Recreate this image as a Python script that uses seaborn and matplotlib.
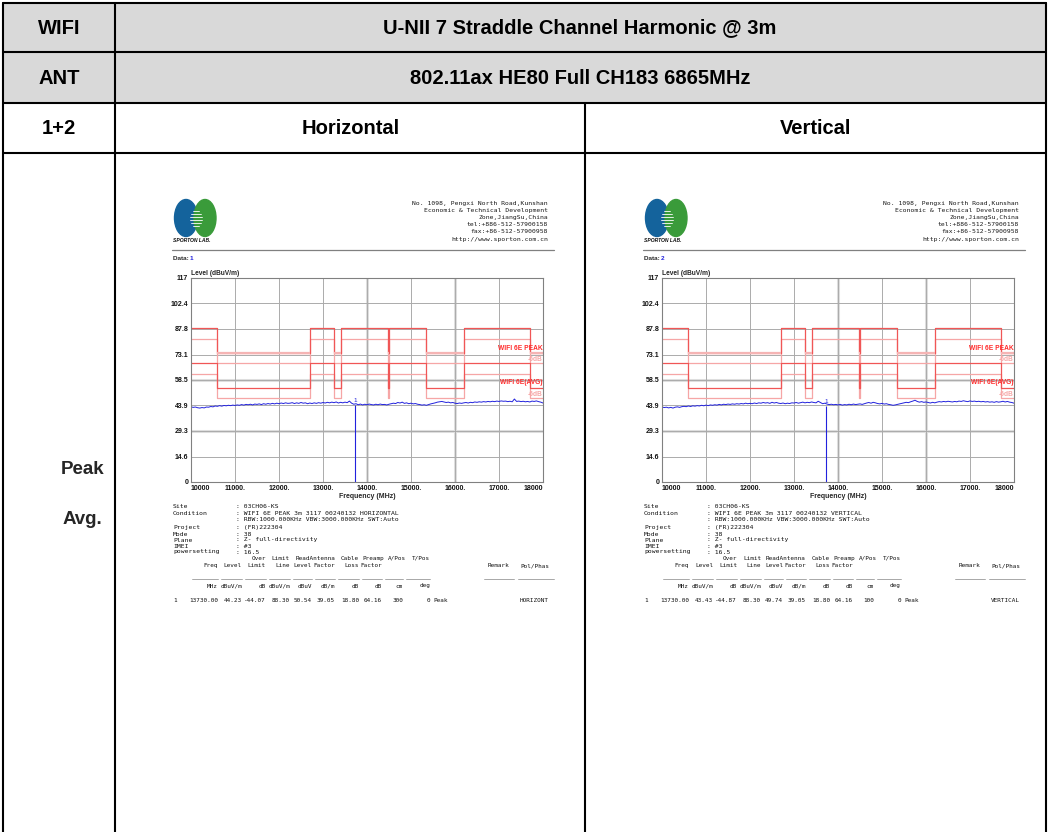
import numpy as np
import matplotlib.pyplot as plt
import seaborn as sns
from matplotlib.patches import Ellipse, Rectangle

sns.set_theme(style="white")
plt.rcParams['font.family'] = ['Liberation Sans', 'DejaVu Sans']
MONO = 'DejaVu Sans Mono'

W, H = 1049, 832

# ---- table texts ----
row_labels = ["WIFI", "ANT", "1+2"]
header_texts = ["U-NII 7 Straddle Channel Harmonic @ 3m", "802.11ax HE80 Full CH183 6865MHz"]
pol_titles = ["Horizontal", "Vertical"]
mode_labels = ["Peak", "Avg."]

# ---- chart axes ----
y_ticks = [0, 14.6, 29.3, 43.9, 58.5, 73.1, 87.8, 102.4, 117]
y_ticklabels = ["0", "14.6", "29.3", "43.9", "58.5", "73.1", "87.8", "102.4", "117"]
x_ticks = [10000, 11000, 12000, 13000, 14000, 15000, 16000, 17000, 18000]
x_ticklabels = ["10000", "11000.", "12000.", "13000.", "14000.", "15000.", "16000.", "17000.", "18000"]

# ---- limit lines (band edges, MHz) ----
band_edges = [10000, 10600, 12700, 13250, 13400, 14470, 14500, 15350, 16200, 17700, 18000]
peak_limit = [88.2, 74.0, 88.2, 74.0, 88.2, 74.0, 88.2, 74.0, 88.2, 74.0]
peak_margin = [82.2, 68.0, 82.2, 68.0, 82.2, 68.0, 82.2, 68.0, 82.2, 68.0]
avg_limit = [68.2, 54.0, 68.2, 54.0, 68.2, 54.0, 68.2, 54.0, 68.2, 54.0]
avg_margin = [62.2, 48.0, 62.2, 48.0, 62.2, 48.0, 62.2, 48.0, 62.2, 48.0]

# ---- measured traces (10000..18000 MHz, 50 MHz sweep points) ----
freq = np.arange(10000, 18001, 50)
trace_h = [43.1, 42.8, 43.0, 42.6, 42.4, 42.7, 42.5, 43.0, 42.9, 43.3,
           43.1, 43.6, 43.4, 43.8, 43.5, 43.9, 43.7, 44.0, 43.8, 44.1,
           43.9, 44.2, 44.0, 44.4, 44.1, 44.5, 44.3, 44.6, 44.2, 44.7,
           44.5, 44.8, 44.4, 44.9, 44.6, 45.0, 44.7, 45.1, 44.8, 45.2,
           44.9, 45.3, 45.0, 45.4, 45.1, 45.2, 45.5, 45.0, 45.4, 45.1,
           45.6, 45.2, 45.4, 44.9, 45.3, 45.0, 45.4, 45.1, 45.5, 45.2,
           45.6, 45.3, 45.7, 45.4, 45.8, 45.5, 45.9, 45.3, 45.7, 45.4,
           45.8, 45.5, 46.4, 45.2, 44.6, 44.9, 44.3, 44.7, 44.2, 44.6,
           44.3, 44.7, 44.4, 44.2, 44.6, 44.3, 44.7, 44.4, 44.5, 44.2,
           44.6, 44.9, 45.2, 45.0, 45.6, 45.3, 45.8, 45.1, 45.4, 44.9,
           45.2, 44.8, 45.0, 44.6, 44.4, 44.1, 44.3, 44.0, 44.4, 44.8,
           45.1, 45.4, 45.8, 46.0, 46.2, 45.9, 45.6, 45.8, 45.4, 45.6,
           45.2, 45.0, 45.3, 45.1, 45.4, 45.6, 45.3, 45.7, 45.5, 45.9,
           45.7, 46.0, 45.8, 46.1, 45.9, 46.2, 46.0, 46.3, 46.1, 46.4,
           46.2, 46.5, 46.3, 46.4, 46.1, 46.3, 46.0, 47.6, 46.2, 46.4,
           46.1, 46.3, 46.0, 46.2, 45.9, 46.4, 46.2, 46.5, 46.1, 45.8,
           45.3]
trace_v = [43.0, 42.7, 42.9, 42.5, 42.8, 42.4, 42.9, 43.1, 42.8, 43.2,
           43.4, 43.2, 43.6, 43.3, 43.7, 43.5, 43.8, 43.6, 44.0, 43.7,
           44.1, 43.8, 44.2, 44.0, 44.3, 44.1, 44.5, 44.2, 44.6, 44.4,
           44.7, 44.5, 44.8, 44.6, 44.9, 44.7, 45.0, 44.8, 45.2, 44.9,
           45.1, 44.9, 45.3, 45.0, 45.4, 45.2, 45.6, 45.3, 45.5, 45.1,
           45.7, 45.3, 45.6, 45.2, 45.0, 45.3, 44.9, 45.2, 45.0, 45.4,
           45.3, 45.6, 45.2, 45.5, 45.8, 45.4, 45.7, 45.5, 45.9, 45.6,
           45.4, 46.3, 45.6, 44.9, 45.2, 44.7, 44.4, 44.6, 44.3, 44.5,
           44.2, 44.5, 44.1, 44.4, 44.2, 44.6, 44.3, 44.7, 44.4, 44.6,
           44.8, 44.5, 44.9, 45.3, 45.6, 45.2, 45.7, 45.4, 45.0, 44.8,
           45.1, 44.7, 44.9, 44.5, 44.3, 44.0, 44.2, 44.5, 44.8, 45.1,
           45.4, 45.7, 45.5, 46.0, 46.4, 46.9, 46.2, 45.8, 46.1, 45.7,
           45.9, 45.6, 45.3, 45.7, 45.4, 45.8, 46.1, 45.9, 46.2, 46.0,
           46.3, 46.1, 45.9, 46.2, 46.0, 46.4, 46.2, 46.6, 46.3, 46.1,
           46.5, 46.2, 46.4, 46.1, 46.3, 46.0, 46.2, 45.9, 46.1, 45.8,
           46.0, 45.7, 46.1, 45.8, 46.0, 46.3, 45.9, 46.2, 45.8, 45.6,
           45.2]
marker_freq = 13730
marker_level = [44.23, 43.43]

# ---- report texts ----
address = ["No. 1098, Pengxi North Road,Kunshan", "Economic & Technical Development",
           "Zone,JiangSu,China", "tel:+886-512-57900158", "fax:+86-512-57900958",
           "http://www.sporton.com.cn"]
info_keys = ["Site", "Condition", "", "Project", "Mode", "Plane", "IMEI", "powersetting"]
info_vals_h = ["03CH06-KS", "WIFI 6E PEAK 3m 3117 00240132 HORIZONTAL",
               "RBW:1000.000KHz VBW:3000.000KHz SWT:Auto", "(FR)222304", "38",
               "Z- full-directivity", "#3", "16.5"]
info_vals_v = ["03CH06-KS", "WIFI 6E PEAK 3m 3117 00240132 VERTICAL",
               "RBW:1000.000KHz VBW:3000.000KHz SWT:Auto", "(FR)222304", "38",
               "Z- full-directivity", "#3", "16.5"]
col_head1 = ["", "", "Over", "Limit", "", "ReadAntenna", "Cable", "", "A/Pos", "T/Pos"]
col_head2 = ["Freq", "Level", "Limit", "Line", "Level", "Factor", "Loss", "Factor", "", ""]
col_units = ["MHz", "dBuV/m", "dB", "dBuV/m", "dBuV", "dB/m", "dB", "dB", "cm", "deg"]
row_h = ["13730.00", "44.23", "-44.07", "88.30", "50.54", "39.05", "18.80", "64.16", "300", "0"]
row_v = ["13730.00", "43.43", "-44.87", "88.30", "49.74", "39.05", "18.80", "64.16", "100", "0"]
remark = "Peak"
pol = ["HORIZONT", "VERTICAL"]

DARK = '#f05656'
LIGHT = '#f6a6a6'
BLUE = '#2222dd'

fig = plt.figure(figsize=(W / 100, H / 100), dpi=100)
bg = fig.add_axes([0, 0, 1, 1])
bg.set_xlim(0, W)
bg.set_ylim(H, 0)
bg.axis('off')

# table frame
bg.add_patch(Rectangle((3, 3), 1043, 100, facecolor='#d9d9d9', edgecolor='none'))
lw = 1.5
for y in [3, 52, 103, 153]:
    bg.plot([3, 1046], [y, y], color='black', lw=lw)
bg.plot([3, 3], [3, H], color='black', lw=lw)
bg.plot([1046, 1046], [3, H], color='black', lw=lw)
bg.plot([115, 115], [3, H], color='black', lw=lw)
bg.plot([585, 585], [103, H], color='black', lw=lw)

tkw = dict(fontsize=14.5, fontweight='bold', ha='center', va='center', color='black')
for lab, y in zip(row_labels, [28, 78, 128]):
    bg.text(59, y, lab, **tkw)
for t, y in zip(header_texts, [28, 78]):
    bg.text(580, y, t, **tkw)
bg.text(351, 128, pol_titles[0], **tkw)
bg.text(816, 128, pol_titles[1], **tkw)
bg.text(83, 470, mode_labels[0], fontsize=13.5, fontweight='bold', ha='center', va='center')
bg.text(82, 519, mode_labels[1], fontsize=13.5, fontweight='bold', ha='center', va='center')

# column right edges in the result table (px, relative to report)
col_right = [218, 242, 266, 290, 312, 335, 359, 382, 403, 430]
col_head_right = [218, 242, 266, 290, 312, 335, 359, 382, 406, 430]


def draw_report(dx, idx, trace, info_vals, row):
    # logo
    bg.add_patch(Ellipse((186 + dx, 218), 23, 37, color='#14639c'))
    bg.add_patch(Ellipse((205 + dx, 218), 22, 37, color='#3a9b3a'))
    for k, yy in enumerate([211, 214, 217, 220, 223, 226]):
        half = [3, 5, 6, 6, 5, 3][k]
        bg.plot([196 + dx - half, 196 + dx + half], [yy, yy], color='white', lw=0.6)
    bg.text(173 + dx, 241, "SPORTON LAB.", fontsize=3.6, fontweight='bold',
            style='italic', color='#111111', va='center')
    for k, line in enumerate(address):
        bg.text(548 + dx, 203.5 + 7.1 * k, line, family=MONO, fontsize=4.6,
                ha='right', va='center', color='#1a1a1a')
    bg.plot([172 + dx, 554 + dx], [250, 250], color='#808080', lw=0.9)
    bg.text(173 + dx, 259, "Data: ", fontsize=4.6, fontweight='bold', va='center')
    bg.text(190 + dx, 259, str(idx + 1), fontsize=4.6, fontweight='bold',
            va='center', color=BLUE)

    # chart
    ax = fig.add_axes([(191 + dx) / W, (H - 482) / H, 352 / W, 204 / H])
    ax.set_xlim(10000, 18000)
    ax.set_ylim(0, 117)
    ax.set_xticks(x_ticks)
    ax.set_yticks(y_ticks)
    ax.grid(True, color='#ababab', lw=0.7)
    for xv in [14000, 16000]:
        ax.axvline(xv, color='#dedede', lw=2.2, zorder=0.5)
    for yv in [29.3, 58.5]:
        ax.axhline(yv, color='#dedede', lw=2.2, zorder=0.5)
    ax.set_axisbelow(True)

    steps = dict(drawstyle='steps-post', legend=False, ax=ax)
    sns.lineplot(x=band_edges, y=peak_margin + peak_margin[-1:], color=LIGHT, lw=0.9, **steps)
    sns.lineplot(x=band_edges, y=avg_margin + avg_margin[-1:], color=LIGHT, lw=0.9, **steps)
    sns.lineplot(x=band_edges, y=peak_limit + peak_limit[-1:], color=DARK, lw=0.9, **steps)
    sns.lineplot(x=band_edges, y=avg_limit + avg_limit[-1:], color=DARK, lw=0.9, **steps)
    ax.hlines(peak_limit[1::2], band_edges[1::2], band_edges[2::2], color='#f5b4b4', lw=1.6)

    sns.lineplot(x=freq, y=trace, color=BLUE, lw=0.7, ax=ax)
    ax.vlines(marker_freq, 0, marker_level[idx], color=BLUE, lw=0.8)
    ax.text(marker_freq, marker_level[idx] + 1.2, "1", color=BLUE, fontsize=4.5,
            ha='center', va='bottom')

    ax.text(17990, 76.6, "WIFI 6E PEAK", color='#ff2b2b', fontsize=4.8,
            fontweight='bold', ha='right', va='center')
    ax.text(17990, 70.3, "-6dB", color=LIGHT, fontsize=4.8, fontweight='bold',
            ha='right', va='center')
    ax.text(17990, 56.8, "WIFI 6E(AVG)", color='#ff2b2b', fontsize=4.8,
            fontweight='bold', ha='right', va='center')
    ax.text(17990, 50.4, "-6dB", color=LIGHT, fontsize=4.8, fontweight='bold',
            ha='right', va='center')

    ax.set_xticklabels(x_ticklabels, fontsize=5, fontweight='bold')
    ax.set_yticklabels(y_ticklabels, fontsize=5, fontweight='bold')
    xl = ax.get_xticklabels()
    xl[0].set_ha('left')
    xl[-1].set_ha('right')
    ax.tick_params(length=0, pad=2, colors='#111111')
    ax.set_xlabel("Frequency (MHz)", fontsize=5, fontweight='bold', labelpad=1)
    ax.set_ylabel("")
    ax.text(0.0, 1.005, "Level (dBuV/m)", transform=ax.transAxes, fontsize=4.8,
            fontweight='bold', ha='left', va='bottom')
    for s in ax.spines.values():
        s.set_color('#808080')
        s.set_linewidth(0.8)

    # information block
    mk = dict(family=MONO, fontsize=4.6, va='center', color='#111111')
    tk = dict(family=MONO, fontsize=4.3, va='center', color='#111111')
    info_y = [507, 513.5, 519.5, 528, 534, 540, 546, 552]
    for key, val, yy in zip(info_keys, info_vals, info_y):
        if key:
            bg.text(173 + dx, yy, key, **mk)
        bg.text(236 + dx, yy, ": " + val, **mk)
    for k in range(10):
        if col_head1[k]:
            bg.text(col_head_right[k] + dx, 558.5, col_head1[k], ha='right', **tk)
        if col_head2[k]:
            bg.text(col_right[k] + dx, 565.5, col_head2[k], ha='right', **tk)
        bg.text(col_right[k] + dx, 586, col_units[k], ha='right', **tk)
        bg.text(col_right[k] + dx, 601, row[k], ha='right', **tk)
        left = (col_right[k - 1] + 3) if k else 192
        bg.plot([left + dx, col_right[k] + dx], [579, 579], color='#9a9a9a', lw=0.6)
    bg.text(362 + dx, 558.5, "Preamp", **tk)
    bg.text(488 + dx, 565.5, "Remark", **tk)
    bg.text(520 + dx, 565.5, "Pol/Phas", **tk)
    bg.plot([484 + dx, 514 + dx], [579, 579], color='#9a9a9a', lw=0.6)
    bg.plot([518 + dx, 554 + dx], [579, 579], color='#9a9a9a', lw=0.6)
    bg.text(173 + dx, 601, "1", **tk)
    bg.text(433 + dx, 601, remark, **tk)
    bg.text(520 + dx, 601, pol[idx], **tk)


draw_report(0, 0, trace_h, info_vals_h, row_h)
draw_report(471, 1, trace_v, info_vals_v, row_v)

fig.savefig('out.png', dpi=100)
